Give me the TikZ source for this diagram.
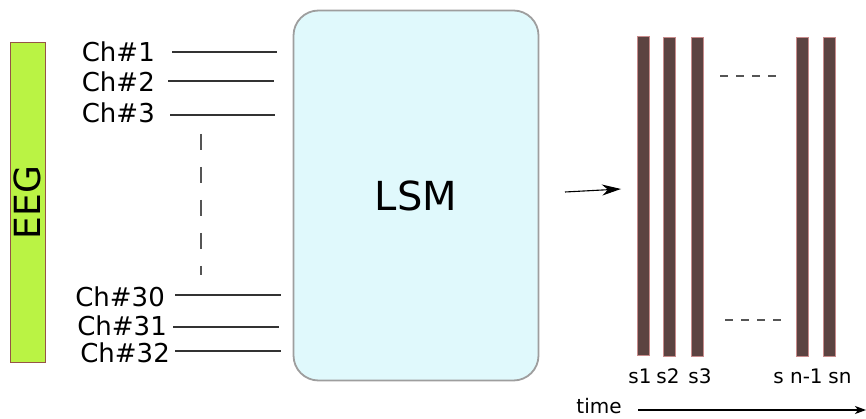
\documentclass[tikz,border=0pt]{standalone}
\usepackage{fontspec}
\setmainfont{DejaVu Sans}
\usetikzlibrary{arrows.meta}
\definecolor{eeggreen}{RGB}{186,243,68}
\definecolor{eegedge}{RGB}{150,85,70}
\definecolor{lsmfill}{RGB}{224,249,252}
\definecolor{lsmedge}{RGB}{158,158,158}
\definecolor{barfill}{RGB}{92,67,65}
\definecolor{baredge}{RGB}{200,140,140}
\definecolor{dashgray}{RGB}{85,85,85}
\begin{document}
\begin{tikzpicture}[x=1pt,y=-1pt,
  chlabel/.style={font=\fontsize{26}{26}\selectfont, anchor=base east, inner sep=0pt},
  chline/.style={line width=1.2pt, draw=black!80},
  slabel/.style={font=\fontsize{20}{20}\selectfont, anchor=base, inner sep=0pt},
  sbar/.style={draw=baredge, fill=barfill, line width=0.5pt, minimum width=12pt,
               minimum height=319pt, inner sep=0pt, anchor=north},
  gapdash/.style={dashgray, line width=1.5pt, dash pattern=on 8pt off 8pt},
]
\useasboundingbox (0,0) rectangle (866,419);

% EEG input bar
\node[draw=eegedge, fill=eeggreen, line width=0.8pt, minimum width=35pt,
      minimum height=320pt, inner sep=0pt] (eeg) at (27.5,202) {};
\node[rotate=90, inner sep=0pt, font=\fontsize{36}{36}\selectfont] (eegtext) at (27.5,202.5) {EEG};

% channel labels
\node[chlabel] (ch1)  at (155,62)  {Ch\#1};
\node[chlabel] (ch2)  at (155,92)  {Ch\#2};
\node[chlabel] (ch3)  at (155,123) {Ch\#3};
\node[chlabel] (ch30) at (165,306) {Ch\#30};
\node[chlabel] (ch31) at (167,335) {Ch\#31};
\node[chlabel] (ch32) at (170,362) {Ch\#32};

% channel lines
\coordinate (l1a)  at (172,52);  \coordinate (l1b)  at (277,52);
\coordinate (l2a)  at (168,81);  \coordinate (l2b)  at (274,81);
\coordinate (l3a)  at (170,115); \coordinate (l3b)  at (275,115);
\coordinate (l30a) at (175,295); \coordinate (l30b) at (281,295);
\coordinate (l31a) at (173,327); \coordinate (l31b) at (279,327);
\coordinate (l32a) at (175,351); \coordinate (l32b) at (281,351);
\draw[chline] (l1a) -- (l1b);
\draw[chline] (l2a) -- (l2b);
\draw[chline] (l3a) -- (l3b);
\draw[chline] (l30a) -- (l30b);
\draw[chline] (l31a) -- (l31b);
\draw[chline] (l32a) -- (l32b);

% omitted channels
\coordinate (va) at (201,134); \coordinate (vb) at (201,275);
\draw[dashgray, line width=1.5pt, dash pattern=on 16pt off 17pt] (va) -- (vb);

% liquid state machine
\node[draw=lsmedge, fill=lsmfill, line width=1.8pt, rounded corners=25pt,
      minimum width=245pt, minimum height=370pt, inner sep=0pt,
      font=\fontsize{40}{40}\selectfont] (lsm) at (416,195.5) {LSM};

% output arrow
\coordinate (oa) at (565,192); \coordinate (ob) at (621,189);
\draw[-{Stealth[length=19pt,width=11pt,inset=6pt]}, line width=1.1pt] (oa) -- (ob);

% spike-state bars
\node[sbar] (b1) at (643,36)   {};
\node[sbar] (b2) at (669.5,37) {};
\node[sbar] (b3) at (697,37)   {};
\node[sbar] (b4) at (802,37)   {};
\node[sbar] (b5) at (829.5,37) {};

\coordinate (ta) at (720,76);  \coordinate (tb) at (778,76);
\coordinate (ua) at (725,320); \coordinate (ub) at (783,320);
\draw[gapdash] (ta) -- (tb);
\draw[gapdash] (ua) -- (ub);

% bar labels
\node[slabel] (s1)  at (640,383) {s1};
\node[slabel] (s2)  at (668,383) {s2};
\node[slabel] (s3)  at (700,383) {s3};
\node[slabel] (sn1) at (798,383) {s n-1};
\node[slabel] (sn)  at (840,383) {sn};

% time axis
\node[slabel] (time) at (599,413) {time};
\coordinate (xa) at (638,410); \coordinate (xb) at (866,410);
\draw[-{Stealth[length=11pt,width=8pt,inset=3pt]}, line width=1.1pt] (xa) -- (xb);
\end{tikzpicture}
\end{document}
